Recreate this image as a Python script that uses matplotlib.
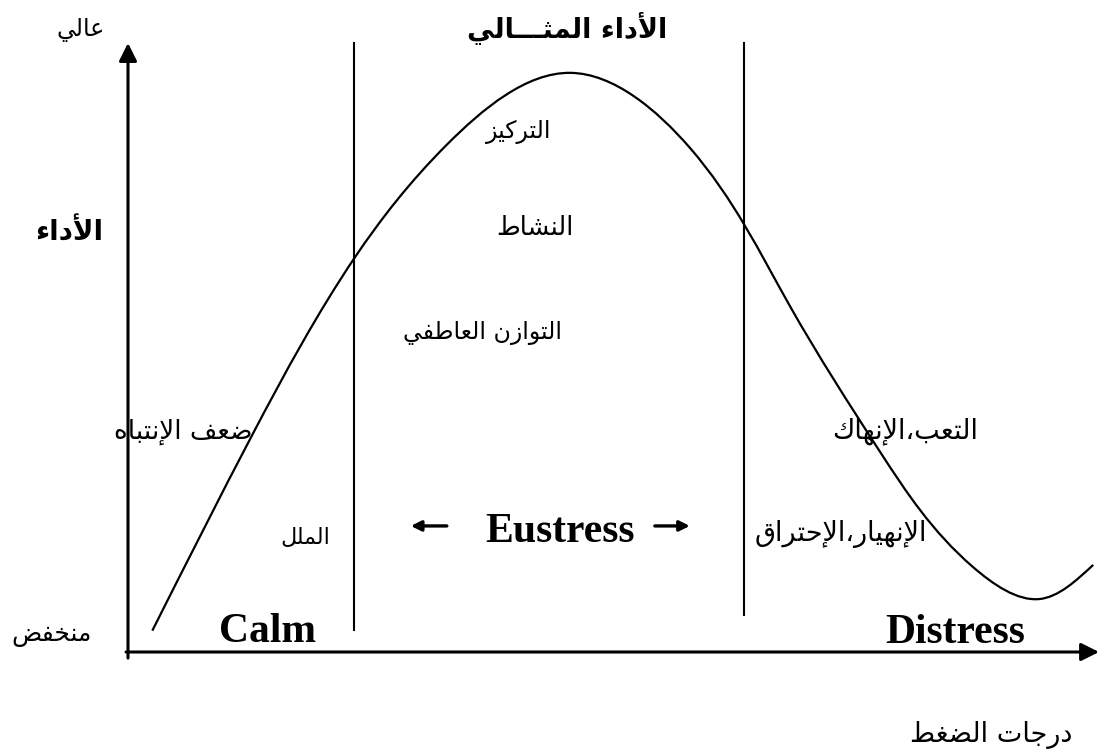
import numpy as np
import matplotlib.pyplot as plt
from matplotlib.path import Path
from matplotlib.patches import PathPatch

# curve: stress level (x) vs performance (y), axes units 0..10
stress = [0.25, 1.29, 2.33, 3.28, 4.55, 5.78, 6.81, 7.74, 8.69, 9.38, 9.93]
performance = [0.35, 3.60, 6.47, 8.33, 9.51, 8.28, 5.68, 3.28, 1.40, 0.87, 1.43]

# zone borders (x, top, bottom)
borders = [(2.33, 10.0, 0.36), (6.34, 10.0, 0.61)]

# arabic labels: text, x, y, size, bold
ar_labels = [
    ("عالي", -0.49, 10.21, 17, False),
    ("الأداء المثـــالي", 4.52, 10.26, 19.5, True),
    ("التركيز", 4.02, 8.54, 17, False),
    ("الأداء", -0.60, 6.88, 20, True),
    ("النشاط", 4.19, 6.96, 18.5, False),
    ("التوازن العاطفي", 3.65, 5.24, 17, False),
    ("ضعف الإنتباه", 0.57, 3.61, 19, False),
    ("التعب،الإنهاك", 7.99, 3.63, 19.5, False),
    ("الملل", 1.82, 1.87, 16, False),
    ("الإنهيار،الإحتراق", 7.33, 1.94, 19.5, False),
    ("منخفض", -0.79, 0.28, 18, False),
    ("درجات الضغط", 8.88, -1.36, 19.5, False),
]
# latin zone names: text, x, baseline y
zones = [("Calm", 1.44, 0.16), ("Eustress", 4.44, 1.81), ("Distress", 8.51, 0.15)]

# minimal arabic shaping (matplotlib has no bidi / joining)
DUAL = {'ب': 0xFE8F, 'ت': 0xFE95, 'ث': 0xFE99, 'ج': 0xFE9D, 'ح': 0xFEA1, 'خ': 0xFEA5,
        'س': 0xFEB1, 'ش': 0xFEB5, 'ص': 0xFEB9, 'ض': 0xFEBD, 'ط': 0xFEC1, 'ظ': 0xFEC5,
        'ع': 0xFEC9, 'غ': 0xFECD, 'ف': 0xFED1, 'ق': 0xFED5, 'ك': 0xFED9, 'ل': 0xFEDD,
        'م': 0xFEE1, 'ن': 0xFEE5, 'ه': 0xFEE9, 'ي': 0xFEF1, 'ئ': 0xFE89}
RIGHT = {'آ': 0xFE81, 'أ': 0xFE83, 'ؤ': 0xFE85, 'إ': 0xFE87, 'ا': 0xFE8D, 'ة': 0xFE93,
         'د': 0xFEA9, 'ذ': 0xFEAB, 'ر': 0xFEAD, 'ز': 0xFEAF, 'و': 0xFEED, 'ى': 0xFEEF}
LAM_ALEF = {'آ': 0xFEF5, 'أ': 0xFEF7, 'إ': 0xFEF9, 'ا': 0xFEFB}
TATWEEL = 'ـ'


def shape(s):
    units = []
    i = 0
    while i < len(s):
        if s[i] == 'ل' and i + 1 < len(s) and s[i + 1] in LAM_ALEF:
            units.append(('LA', s[i + 1]))
            i += 2
        else:
            units.append(('C', s[i]))
            i += 1

    def joins_next(u):
        return u[0] == 'C' and (u[1] in DUAL or u[1] == TATWEEL)

    def joins_prev(u):
        return u[0] == 'LA' or u[1] in DUAL or u[1] in RIGHT or u[1] == TATWEEL

    out = []
    for j, u in enumerate(units):
        prev = j > 0 and joins_next(units[j - 1]) and joins_prev(u)
        nxt = j + 1 < len(units) and joins_next(u) and joins_prev(units[j + 1])
        kind, c = u
        if kind == 'LA':
            out.append(chr(LAM_ALEF[c] + prev))
        elif c in DUAL:
            off = 3 if (prev and nxt) else 1 if prev else 2 if nxt else 0
            out.append(chr(DUAL[c] + off))
        elif c in RIGHT:
            out.append(chr(RIGHT[c] + prev))
        else:
            out.append(c)
    return ''.join(reversed(out))


fig = plt.figure(figsize=(11, 7.56), dpi=100)
ax = fig.add_axes([128 / 1100, 104 / 756, 972 / 1100, 609 / 756])
ax.set_xlim(0, 10)
ax.set_ylim(0, 10)
ax.axis('off')

# axes with arrow heads
arrow = dict(arrowstyle='-|>', color='black', lw=2.2, mutation_scale=27,
             shrinkA=0, shrinkB=0)
ax.annotate('', xy=(0, 10), xytext=(0, -0.1), arrowprops=arrow, annotation_clip=False)
ax.annotate('', xy=(9.99, 0), xytext=(-0.02, 0), arrowprops=arrow, annotation_clip=False)

# vertical zone borders
for bx, top, bot in borders:
    ax.plot([bx, bx], [bot, top], color='black', lw=1.5, clip_on=False)

# smooth curve through the read points: natural spline over chord length,
# handed to matplotlib as cubic Bezier segments
P = np.column_stack([stress, performance])
D = ax.transData.transform(P)
h = np.hypot(*np.diff(D, axis=0).T)
n = len(P)
A = np.zeros((n, n))
rhs = np.zeros((n, 2))
A[0, 0] = A[-1, -1] = 1
for i in range(1, n - 1):
    A[i, i - 1], A[i, i], A[i, i + 1] = h[i - 1], 2 * (h[i - 1] + h[i]), h[i]
    rhs[i] = 6 * ((P[i + 1] - P[i]) / h[i] - (P[i] - P[i - 1]) / h[i - 1])
M = np.linalg.solve(A, rhs)
verts = [P[0]]
codes = [Path.MOVETO]
for k in range(n - 1):
    slope = (P[k + 1] - P[k]) / h[k]
    d0 = slope - h[k] * (2 * M[k] + M[k + 1]) / 6
    d1 = slope + h[k] * (M[k] + 2 * M[k + 1]) / 6
    verts += [P[k] + d0 * h[k] / 3, P[k + 1] - d1 * h[k] / 3, P[k + 1]]
    codes += [Path.CURVE4] * 3
ax.add_patch(PathPatch(Path(verts, codes), facecolor='none', edgecolor='black',
                       lw=1.6, clip_on=False))

# arrows beside Eustress
small = dict(arrowstyle='-|>', color='black', lw=2.4, mutation_scale=15,
             shrinkA=0, shrinkB=0)
ax.annotate('', xy=(2.91, 2.07), xytext=(3.28, 2.07), arrowprops=small, annotation_clip=False)
ax.annotate('', xy=(5.78, 2.07), xytext=(5.42, 2.07), arrowprops=small, annotation_clip=False)

for txt, x, y, size, bold in ar_labels:
    ax.text(x, y, shape(txt), ha='center', va='center', fontsize=size,
            family='DejaVu Sans', fontweight='bold' if bold else 'normal', clip_on=False)

for txt, x, y in zones:
    ax.text(x, y, txt, ha='center', va='baseline', fontsize=30,
            family='Liberation Serif', fontweight='bold', clip_on=False)

fig.savefig('out.png', dpi=100)
